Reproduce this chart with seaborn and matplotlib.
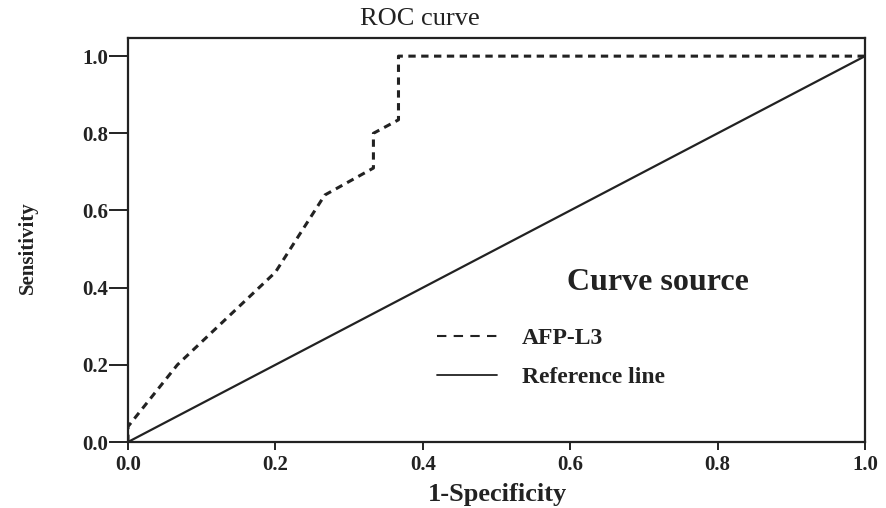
import matplotlib
matplotlib.use("Agg")
import matplotlib.pyplot as plt
from matplotlib.lines import Line2D
import seaborn as sns
import pandas as pd

# ---- data ----
fpr = [0.0, 0.0, 0.067, 0.2, 0.267, 0.333, 0.333, 0.367, 0.367, 1.0]
tpr = [0.0, 0.04, 0.2, 0.44, 0.64, 0.71, 0.80, 0.835, 1.0, 1.0]
ref_x = [0.0, 1.0]
ref_y = [0.0, 1.0]
series_names = ["AFP-L3", "Reference line"]
ticks = [0.0, 0.2, 0.4, 0.6, 0.8, 1.0]
tick_labels = ["0.0", "0.2", "0.4", "0.6", "0.8", "1.0"]

sns.set_theme(style="white")
plt.rcParams["font.family"] = ["Liberation Serif", "DejaVu Serif"]

W, H = 887, 508
fig = plt.figure(figsize=(W / 100, H / 100), dpi=100)
ax = fig.add_axes([128 / W, (H - 442) / H, (865 - 128) / W, (442 - 38) / H])

curve = pd.DataFrame({"x": fpr, "y": tpr})
ref = pd.DataFrame({"x": ref_x, "y": ref_y})

sns.lineplot(data=curve, x="x", y="y", sort=False, estimator=None, ax=ax,
             color="#222222", lw=2.2, linestyle=(0, (2.4, 1.8)))
sns.lineplot(data=ref, x="x", y="y", sort=False, estimator=None, ax=ax,
             color="#222222", lw=1.6)

ax.set_xlim(0, 1)
ax.set_ylim(0, 1.047)
ax.set_xticks(ticks)
ax.set_xticklabels(tick_labels)
ax.set_yticks(ticks)
ax.set_yticklabels(tick_labels)
ax.set_xlabel("")
ax.set_ylabel("")

for s in ax.spines.values():
    s.set_visible(True)
    s.set_color("#222222")
    s.set_linewidth(1.6)

ax.tick_params(axis="both", direction="out", colors="#222222", width=1.4,
               labelsize=15)
ax.tick_params(axis="x", length=6, pad=3, bottom=True)
ax.tick_params(axis="y", length=14, pad=0.5, left=True)
for lab in ax.get_xticklabels() + ax.get_yticklabels():
    lab.set_fontweight("bold")
    lab.set_color("#222222")

fig.text(420 / W, 1 - 19 / H, "ROC curve", ha="center", va="center",
         fontsize=19, color="#222222")
fig.text(498 / W, 1 - 494 / H, "1-Specificity", ha="center", va="center",
         fontsize=19, fontweight="bold", color="#222222")
fig.text(28 / W, 1 - 248 / H, "Sensitivity", ha="center", va="center",
         rotation=90, fontsize=15, fontweight="bold", color="#222222")

handles = [
    Line2D([], [], color="#222222", lw=1.5, linestyle=(0, (4.5, 3.5))),
    Line2D([], [], color="#222222", lw=1.3),
]
leg = ax.legend(handles, series_names,
                loc="center left", bbox_to_anchor=(416 / W, 1 - 358 / H),
                bbox_transform=fig.transFigure, frameon=False,
                prop={"weight": "bold", "size": 17},
                handlelength=2.55, handletextpad=1.05, labelspacing=0.75)
for t in leg.get_texts():
    t.set_color("#222222")
fig.text(658 / W, 1 - 283 / H, "Curve source", ha="center", va="center",
         fontsize=23, fontweight="bold", color="#222222")

fig.savefig("out.png", dpi=100)
